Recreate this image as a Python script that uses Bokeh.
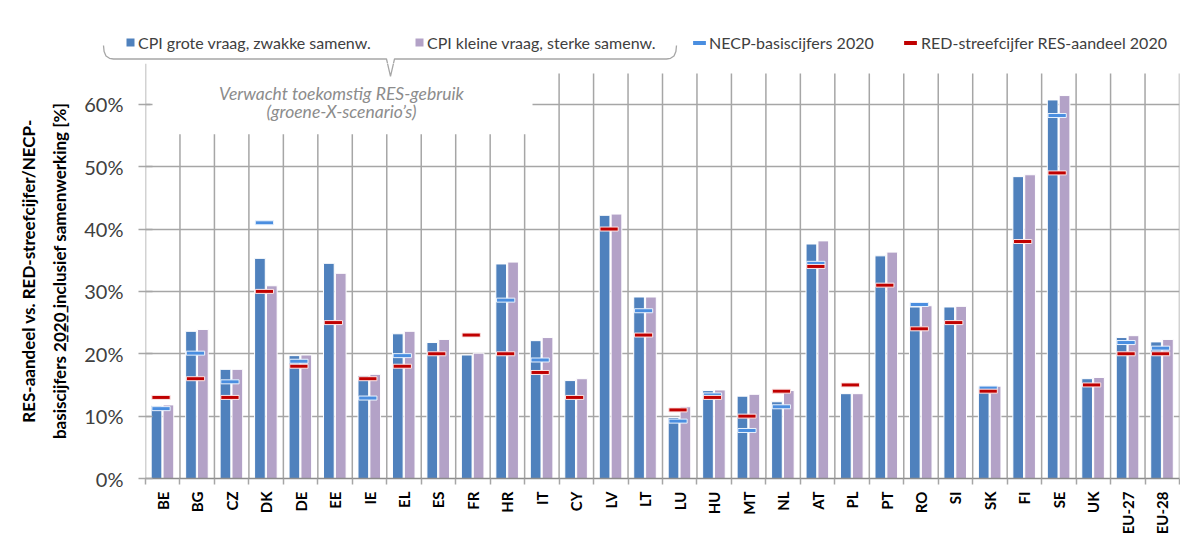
import math
from bokeh.plotting import figure
from bokeh.layouts import column
from bokeh.models import Range1d, FixedTicker, Legend, LegendItem, Label, Title
from bokeh.embed import file_html
from bokeh.resources import INLINE

# ---------------- data ----------------
cats = ["BE", "BG", "CZ", "DK", "DE", "EE", "IE", "EL", "ES", "FR", "HR", "IT", "CY",
        "LV", "LT", "LU", "HU", "MT", "NL", "AT", "PL", "PT", "RO", "SI", "SK", "FI",
        "SE", "UK", "EU-27", "EU-28"]
cpi_high = [11.7, 23.6, 17.5, 35.3, 19.7, 34.5, 16.5, 23.2, 21.8, 19.8, 34.4, 22.1, 15.7,
            42.2, 29.1, 9.8, 14.1, 13.2, 12.3, 37.6, 13.6, 35.7, 27.5, 27.5, 14.6, 48.4,
            60.7, 16.0, 22.6, 21.9]
cpi_low = [11.8, 23.9, 17.5, 30.9, 19.8, 32.9, 16.7, 23.6, 22.3, 20.1, 34.7, 22.6, 16.0,
           42.4, 29.1, 11.5, 14.2, 13.5, 14.1, 38.1, 13.6, 36.3, 27.7, 27.6, 14.8, 48.7,
           61.4, 16.2, 22.9, 22.3]
nan = float("nan")
necp = [11.2, 20.1, 15.5, 41.0, 18.8, nan, 12.9, 19.7, nan, nan, 28.6, 19.0, nan,
        nan, 26.9, 9.2, 13.4, 7.7, 11.5, 34.5, nan, nan, 27.9, nan, 14.5, nan,
        58.2, nan, 21.8, 20.9]
red = [13, 16, 13, 30, 18, 25, 16, 18, 20, 23, 20, 17, 13, 40, 23, 11, 13, 10, 14, 34,
       15, 31, 24, 25, 14, 38, 49, 15, 20, 20]
y_ticks = [0, 10, 20, 30, 40, 50, 60]
y_tick_labels = ["0%", "10%", "20%", "30%", "40%", "50%", "60%"]

series_names = ["CPI grote vraag, zwakke samenw.", "CPI kleine vraag, sterke samenw.",
                "NECP-basiscijfers 2020", "RED-streefcijfer RES-aandeel 2020"]

FONT = "Lato"
BLUE = "#4F81BD"
PURPLE = "#B3A2C7"
NECP_C = "#4A8EE0"
RED_C = "#C00000"
GRID = "#A6A6A6"
TXT = "#404040"

n = len(cats)
centers = [i + 0.5 for i in range(n)]
bounds = [float(i) for i in range(n + 1)]

# ---------------- geometry (pixels) ----------------
W = 1180
HEAD_H = 63            # header strip (legend + brace)
MAIN_H = 537 - HEAD_H
LEFT = 145             # frame left
FRAME_W = 1034
PX_X = FRAME_W / n     # px per category
ZERO_Y = 480           # page y of 0 %
PX_Y = (ZERO_Y - 104) / 60.0   # px per percent (60 % line at y=104)
y_top_main = (ZERO_Y - HEAD_H) / PX_Y

def dx(px):
    return (px - LEFT) / PX_X

def dy(py):
    return (ZERO_Y - py) / PX_Y

# ---------------- header figure ----------------
h = figure(width=W, height=HEAD_H, output_backend="svg", toolbar_location=None,
           x_axis_type=None, y_axis_type=None,
           x_range=Range1d(dx(0), dx(W)), y_range=Range1d(dy(HEAD_H), dy(0)),
           min_border=0, min_border_left=0, min_border_right=0,
           min_border_top=0, min_border_bottom=0)
h.frame_align = False
h.outline_line_color = None
h.grid.visible = False
h.background_fill_color = "white"
h.border_fill_color = "white"

xb = [c - 0.18 for c in centers]
xp = [c + 0.165 for c in centers]
xm = [c - 0.05 for c in centers]

# legend proxies (their data lies below the header's visible range)
hb = h.vbar(x=xb, top=cpi_high, width=0.31, fill_color=BLUE, line_color=None)
hp = h.vbar(x=xp, top=cpi_low, width=0.31, fill_color=PURPLE, line_color=None)
hn = h.rect(x=xm, y=necp, width=0.53, height=4, height_units="screen",
            fill_color=NECP_C, line_color=None)
hr = h.rect(x=xm, y=red, width=0.53, height=4, height_units="screen",
            fill_color=RED_C, line_color=None)

def add_legend(fig, renderer, label, vx, gw, gh, standoff):
    lg = Legend(items=[LegendItem(label=label, renderers=[renderer])],
                location=(vx, 11.5), orientation="horizontal",
                glyph_width=gw, glyph_height=gh, label_standoff=standoff,
                padding=0, margin=0, spacing=0,
                border_line_color=None, background_fill_alpha=0,
                label_text_font=FONT, label_text_font_size="16px",
                label_text_color=TXT, label_height=19)
    fig.add_layout(lg, "center")

add_legend(h, hb, series_names[0], 125, 10, 10, 3)
add_legend(h, hp, series_names[1], 414, 10, 10, 3)
add_legend(h, hn, series_names[2], 691, 16, 5, 2)
add_legend(h, hr, series_names[3], 902, 16, 5, 3)

# brace (decoration)
brace_px = [(103, 45), (103.6, 51), (105.5, 55.5), (109, 57.8), (113, 58.5), (386, 58.5),
            (390, 76), (394, 58.5), (666, 58.5), (670, 57.8), (673.5, 55.5), (675.4, 51),
            (676, 45)]
brace_x = [dx(a) for a, b in brace_px]
brace_y = [dy(b) for a, b in brace_px]
h.line(brace_x, brace_y, line_color="#A6A6A6", line_width=1.3)

# ---------------- main figure ----------------
p = figure(width=W, height=MAIN_H, output_backend="svg", toolbar_location=None,
           x_range=Range1d(0, n), y_range=Range1d(0, y_top_main),
           min_border_left=LEFT, min_border_right=W - LEFT - FRAME_W,
           min_border_top=0, min_border_bottom=MAIN_H - (ZERO_Y - HEAD_H))
p.frame_align = False
p.outline_line_color = None
p.background_fill_color = "white"
p.border_fill_color = "white"

p.xgrid.visible = False
p.ygrid.ticker = FixedTicker(ticks=y_ticks[1:])
p.ygrid.grid_line_color = GRID
p.ygrid.grid_line_width = 1.5

# vertical separators between categories (stop below the legend strip)
p.segment(x0=bounds[1:], y0=[0] * n, x1=bounds[1:], y1=[dy(73)] * n,
          line_color=GRID, line_width=1.5)
p.segment(x0=[0], y0=[0], x1=[0], y1=[y_top_main], line_color=GRID, line_width=1.5)

# white box behind the annotation text
p.quad(left=[dx(150)], right=[dx(532)], bottom=[dy(134)], top=[y_top_main + 1],
       fill_color="white", line_color=None)

p.line(brace_x, brace_y, line_color="#A6A6A6", line_width=1.3)

# bars
p.vbar(x=xb, top=cpi_high, width=0.31, bottom=0,
       fill_color=BLUE, line_color="white", line_width=1)
p.vbar(x=xp, top=cpi_low, width=0.31, bottom=0,
       fill_color=PURPLE, line_color="white", line_width=1)

# markers
p.rect(x=xm, y=necp, width=0.53, height=4, height_units="screen",
       fill_color=NECP_C, line_color="#EAF2FC", line_width=1)
p.rect(x=xm, y=red, width=0.53, height=4, height_units="screen",
       fill_color=RED_C, line_color="#FBE5E5", line_width=1)

# annotation text
for txt, py in [("Verwacht toekomstig RES-gebruik", 92.7),
                ("(groene-X-scenario\u2019s)", 111.5)]:
    p.add_layout(Label(x=dx(341), y=dy(py), text=txt,
                       text_align="center", text_baseline="middle", text_font=FONT,
                       text_font_size="17.5px", text_font_style="italic",
                       text_color="#8C8C8C"))

# y axis
p.yaxis.ticker = FixedTicker(ticks=y_ticks)
p.yaxis.major_label_overrides = {t: l for t, l in zip(y_ticks, y_tick_labels)}
p.yaxis.axis_line_color = None
p.yaxis.major_tick_in = 7
p.yaxis.major_tick_out = 7
p.yaxis.major_tick_line_color = GRID
p.yaxis.major_tick_line_width = 1.5
p.yaxis.minor_tick_line_color = None
p.yaxis.major_label_standoff = 15
p.yaxis.major_label_text_font = FONT
p.yaxis.major_label_text_font_size = "20px"
p.yaxis.major_label_text_color = TXT

# x axis
p.xaxis.ticker = FixedTicker(ticks=centers, minor_ticks=bounds)
p.xaxis.major_label_overrides = {c: l for c, l in zip(centers, cats)}
p.xaxis.major_label_orientation = math.pi / 2
p.xaxis.major_tick_line_color = None
p.xaxis.major_tick_out = 0
p.xaxis.major_tick_in = 0
p.xaxis.minor_tick_in = 0
p.xaxis.minor_tick_out = 6
p.xaxis.minor_tick_line_color = GRID
p.xaxis.minor_tick_line_width = 1.5
p.xaxis.axis_line_color = "#8C8C8C"
p.xaxis.axis_line_width = 1.5
p.xaxis.major_label_standoff = 7
p.xaxis.major_label_text_font = FONT
p.xaxis.major_label_text_font_size = "15px"
p.xaxis.major_label_text_font_style = "bold"
p.xaxis.major_label_text_color = "black"

# y axis title (two lines)
u = "\u0332"
line2 = "basiscijfers " + "".join(ch + u for ch in "2020") + " inclusief samenwerking [%]"
p.add_layout(Title(text=line2, align="center", text_font=FONT, text_font_size="17px",
                   text_font_style="bold", text_color="black", standoff=23, offset=22),
             "left")
p.add_layout(Title(text="RES-aandeel vs. RED-streefcijfer/NECP-", align="center",
                   text_font=FONT, text_font_size="17px", text_font_style="bold",
                   text_color="black", standoff=-6, offset=22), "left")

layout = column(h, p, spacing=0)
open("out.html", "w").write(file_html(layout, INLINE))
